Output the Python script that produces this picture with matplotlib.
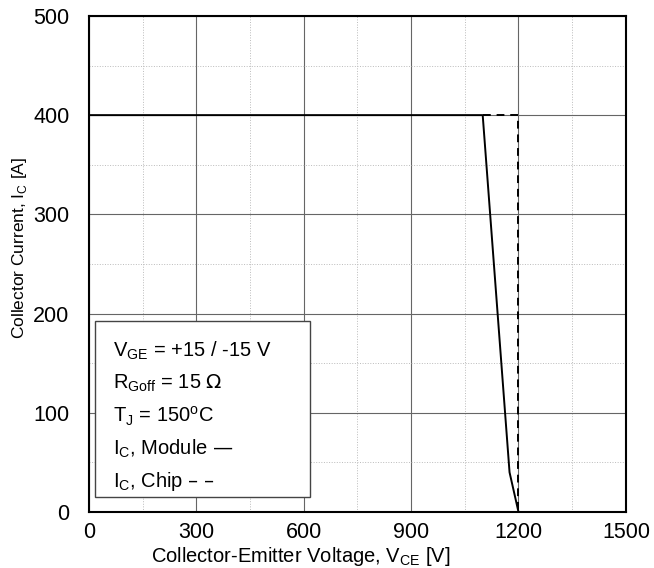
import matplotlib.pyplot as plt
from matplotlib.ticker import MultipleLocator
from matplotlib.patches import Rectangle

plt.rcParams['font.family'] = ['Liberation Sans', 'DejaVu Sans']

# RBSOA curves
module_v = [0, 1100, 1175, 1200]
module_i = [400, 400, 40, 0]
chip_v = [1100, 1200, 1200]
chip_i = [400, 400, 0]

x_ticks = [0, 300, 600, 900, 1200, 1500]
y_ticks = [0, 100, 200, 300, 400, 500]

legend_lines = [
    r'V$_{\mathregular{GE}}$ = +15 / -15 V',
    r'R$_{\mathregular{Goff}}$ = 15 $\Omega$',
    r'T$_{\mathregular{J}}$ = 150$^{\mathregular{o}}$C',
    r'I$_{\mathregular{C}}$, Module ' + '\u2014',
    r'I$_{\mathregular{C}}$, Chip ' + '\u2013 \u2013',
]

fig = plt.figure(figsize=(6.54, 5.68), dpi=100)
ax = fig.add_axes([0.136, 0.0986, 0.821, 0.8734])

ax.set_xlim(0, 1500)
ax.set_ylim(0, 500)
ax.set_xticks(x_ticks)
ax.set_yticks(y_ticks)
ax.xaxis.set_minor_locator(MultipleLocator(150))
ax.yaxis.set_minor_locator(MultipleLocator(50))
ax.grid(which='major', color='#666666', linewidth=0.8)
ax.grid(which='minor', color='#bbbbbb', linewidth=0.7, linestyle=':')
ax.tick_params(which='both', length=0, labelsize=15.5, pad=7)
ax.tick_params(axis='y', pad=14)
for s in ax.spines.values():
    s.set_linewidth(1.5)
    s.set_color('black')

ax.plot(module_v, module_i, color='black', linewidth=1.4, zorder=3)
ax.plot(chip_v, chip_i, color='black', linewidth=1.4, linestyle=(0, (4, 3)), zorder=3)

ax.set_xlabel(r'Collector-Emitter Voltage, V$_{\mathregular{CE}}$ [V]', fontsize=14.5)
ax.xaxis.set_label_coords(0.395, -0.066)
ax.set_ylabel(r'Collector Current, I$_{\mathregular{C}}$ [A]', fontsize=12.5)
ax.yaxis.set_label_coords(-0.112, 0.532)

box = Rectangle((0.011, 0.03), 0.40, 0.355, transform=ax.transAxes,
                facecolor='white', edgecolor='#444444', linewidth=1.0, zorder=4)
ax.add_patch(box)
for k, txt in enumerate(legend_lines):
    ax.text(0.045, 0.325 - k * 0.066, txt, transform=ax.transAxes,
            fontsize=14.5, va='center', ha='left', zorder=5)

fig.savefig('out.png', dpi=100)
